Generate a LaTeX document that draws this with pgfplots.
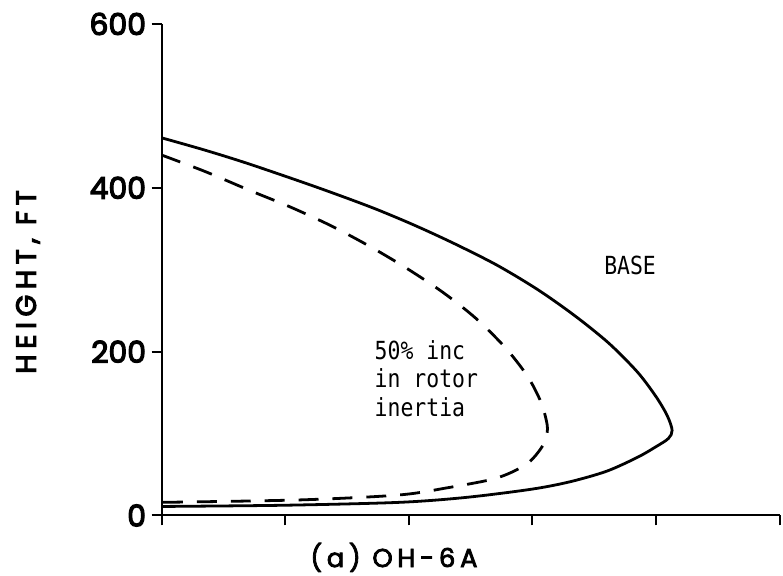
\documentclass[border=0pt]{standalone}
\usepackage{fontspec}
\usepackage{pgfplots}
\pgfplotsset{compat=1.18}
\newfontfamily\lettering[FakeBold=4]{Poppins}
\newfontfamily\spaced[LetterSpace=20, FakeBold=4]{Poppins}
\newfontfamily\spacedlight[LetterSpace=18, FakeBold=3]{Poppins}
\newfontfamily\typed{DejaVu Sans Mono}

\begin{document}
\begin{tikzpicture}
\begin{axis}[
  scale only axis,
  width=620pt, height=493pt,
  xmin=0, xmax=5, ymin=0, ymax=600,
  axis lines=left,
  axis line style={-, line width=2pt},
  every tick/.style={black, line width=2pt},
  tick align=outside,
  major tick length=10pt,
  xtick={0,1,2,3,4,5}, xticklabels={},
  ytick={0,200,400,600},
  /pgf/number format/assume math mode=true,
  yticklabel style={font=\lettering\fontsize{30}{30}\selectfont, xshift=-2pt},
  clip=false,
]
% solid curve: base configuration
\addplot[black, line width=2.8pt, smooth] coordinates {
  (0,461) (0.35,446) (0.71,429) (1.25,401) (1.70,376) (2.05,354)
  (2.38,331) (2.72,305) (3.05,275) (3.35,243) (3.62,210) (3.85,175)
  (4.00,145) (4.09,122) (4.13,104) (4.10,94) (4.00,84) (3.85,71)
  (3.60,54) (3.30,41) (2.99,32) (2.46,22) (1.92,16) (1.00,12.5) (0,11)
};
% dashed curve: 50% increase in rotor inertia
\addplot[black, line width=2.8pt, smooth, dash pattern=on 20pt off 14pt] coordinates {
  (0,440) (0.35,420) (0.71,397) (1.05,376) (1.38,353) (1.69,328)
  (1.98,302) (2.27,273) (2.54,241) (2.78,205) (2.96,170) (3.07,138)
  (3.12,110) (3.11,95) (3.07,82) (2.98,66) (2.85,54) (2.67,44)
  (2.32,34) (1.92,25) (1.12,19) (0,16)
};
\node[font=\typed\fontsize{25}{29}\selectfont, xscale=0.86] at (axis cs:3.79,305) {BASE};
\node[font=\typed\fontsize{25}{29}\selectfont, xscale=0.86, anchor=west, align=left]
  at (axis cs:1.70,167) {50\% inc\\in rotor\\inertia};
\node[font=\spaced\fontsize{28}{28}\selectfont, rotate=90]
  at (rel axis cs:-0.216,0.475) {HEIGHT, FT};
\node[font=\spacedlight\fontsize{26}{26}\selectfont]
  at (rel axis cs:0.376,-0.0852) {(a) OH-6A};
\path (rel axis cs:-0.2613,-0.1176) rectangle (rel axis cs:1.0,1.0487);
\end{axis}
\end{tikzpicture}
\end{document}
